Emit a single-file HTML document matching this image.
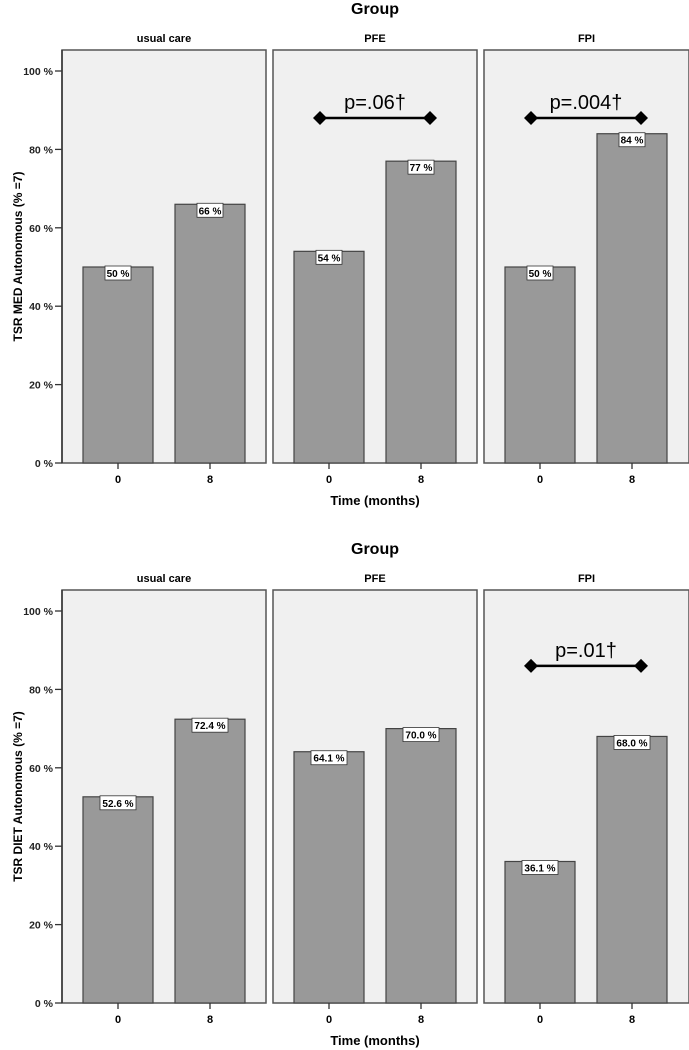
<!DOCTYPE html>
<html><head><meta charset="utf-8"><style>
html,body{margin:0;padding:0;background:#fff;}
svg{display:block;font-family:"Liberation Sans",Arial,sans-serif;}
</style></head><body>
<svg id="c" width="689" height="1050" viewBox="0 0 689 1050"></svg>
<script>
const groups = ["usual care","PFE","FPI"];
const times = ["0","8"];
const medValues = [[50,66],[54,77],[50,84]];
const medLabels = [["50 %","66 %"],["54 %","77 %"],["50 %","84 %"]];
const dietValues = [[52.6,72.4],[64.1,70.0],[36.1,68.0]];
const dietLabels = [["52.6 %","72.4 %"],["64.1 %","70.0 %"],["36.1 %","68.0 %"]];
const yTicks = [0,20,40,60,80,100];
const medSig = [null,"p=.06†","p=.004†"];
const dietSig = [null,null,"p=.01†"];
const medSigLevel = [null,88,88];
const dietSigLevel = [null,null,86];

const NS="http://www.w3.org/2000/svg";
const svg=document.getElementById('c');
function mk(tag,attrs,parent,text){const e=document.createElementNS(NS,tag);for(const k in attrs)e.setAttribute(k,attrs[k]);if(text!==undefined)e.textContent=text;(parent||svg).appendChild(e);return e;}
const panelX=[[62,266],[273,477],[484,689]];
const barOff=[[21,91],[113,183]];

function chart(top,zeroY,title,values,labels,sig,sigLvl,yTitle,prefix){
  const g=mk('g',{});
  
  
  const yS=v=>zeroY-v*3.92;
  let t=mk('text',{x:375,y:top-36,'text-anchor':'middle','font-size':16,'font-weight':'bold'},g,"Group");
  
  t=mk('text',{x:0,y:0,transform:`translate(22,${(top+zeroY)/2}) rotate(-90)`,'text-anchor':'middle','font-size':12,'font-weight':'bold'},g,yTitle);
  
  t=mk('text',{x:375,y:zeroY+42,'text-anchor':'middle','font-size':13,'font-weight':'bold'},g,"Time (months)");
  
  yTicks.forEach(v=>{
    const y=yS(v);
    mk('line',{x1:55,x2:62,y1:y,y2:y,stroke:'#333','stroke-width':1.3},g);
    const tl=mk('text',{x:53,y:y+4,'text-anchor':'end','font-size':10.5,'font-weight':'bold',fill:'#222'},g,v+" %");
    
  });
  groups.forEach((gr,i)=>{
    const [x0,x1]=panelX[i];
    const p=mk('rect',{x:x0,y:top,width:x1-x0,height:zeroY-top,fill:'#f0f0f0',stroke:'#555','stroke-width':1.5},g);
    
    const st=mk('text',{x:(x0+x1)/2,y:top-8,'text-anchor':'middle','font-size':11,'font-weight':'bold'},g,gr);
    
    times.forEach((tm,j)=>{
      const bx=x0+barOff[j][0],bw=barOff[j][1]-barOff[j][0];
      const y=yS(values[i][j]);
      const b=mk('rect',{x:bx,y:y,width:bw,height:zeroY-y,fill:'#999',stroke:'#444','stroke-width':1.2},g);
      
      const cx=bx+bw/2;
      mk('line',{x1:cx,x2:cx,y1:zeroY,y2:zeroY+6,stroke:'#333','stroke-width':1.3},g);
      const xl=mk('text',{x:cx,y:zeroY+20,'text-anchor':'middle','font-size':11,'font-weight':'bold'},g,tm);
      
      const lab=labels[i][j];const w=lab.length>5?36:26;
      mk('rect',{x:cx-w/2,y:y-1,width:w,height:14,fill:'#fff',stroke:'#333','stroke-width':0.8},g);
      const vl=mk('text',{x:cx,y:y+10,'text-anchor':'middle','font-size':10,'font-weight':'bold'},g,lab);
      
    });
    if(sig[i]){
      const ly=yS(sigLvl[i]);
      const xa=x0+barOff[0][0]+35-9,xb=x0+barOff[1][0]+35+9;
      mk('line',{x1:xa,x2:xb,y1:ly,y2:ly,stroke:'#000','stroke-width':2.5},g);
      [xa,xb].forEach(xx=>mk('polygon',{points:`${xx-7},${ly} ${xx},${ly-7} ${xx+7},${ly} ${xx},${ly+7}`,fill:'#000'},g));
      const s=mk('text',{x:(xa+xb)/2,y:ly-9,'text-anchor':'middle','font-size':20},g,sig[i]);
      
    }
  });
  mk('line',{x1:62,x2:62,y1:top,y2:zeroY,stroke:'#333','stroke-width':1.5},g);
}
chart(50,463,"Group",medValues,medLabels,medSig,medSigLevel,"TSR MED Autonomous (% =7)","med");
chart(590,1003,"Group",dietValues,dietLabels,dietSig,dietSigLevel,"TSR DIET Autonomous (% =7)","diet");
</script>
</body></html>
